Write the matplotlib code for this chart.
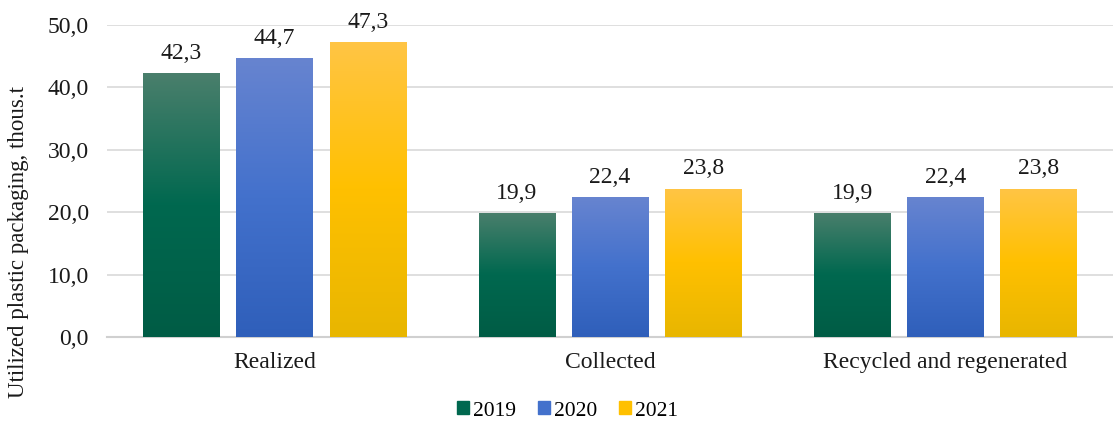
import matplotlib
matplotlib.use("Agg")
import matplotlib.pyplot as plt
import numpy as np
from matplotlib.colors import LinearSegmentedColormap
from matplotlib.patches import Rectangle

categories = ["Realized", "Collected", "Recycled and regenerated"]
years = ["2019", "2020", "2021"]
v2019 = [42.3, 19.9, 19.9]
v2020 = [44.7, 22.4, 22.4]
v2021 = [47.3, 23.8, 23.8]
series = [v2019, v2020, v2021]

# gradient stops (top, middle, bottom)
grads = [
    ["#4a7f6c", "#00684f", "#005c45"],
    ["#6784d0", "#4371cc", "#2f5fba"],
    ["#ffc545", "#ffc000", "#e8b600"],
]
base_colors = ["#00684f", "#4371cc", "#ffc000"]

plt.rcParams["font.family"] = ["Liberation Serif", "DejaVu Serif"]
FS = 17

fig = plt.figure(figsize=(11.13, 4.25), dpi=100)
ax = fig.add_axes([0.096, 0.207, 0.904, 0.734])

x = np.arange(len(categories))
w = 0.227
off = 0.278
grad_img = np.linspace(0, 1, 256).reshape(-1, 1)

for i, (vals, g) in enumerate(zip(series, grads)):
    cmap = LinearSegmentedColormap.from_list(f"g{i}", [(0, g[2]), (0.5, g[1]), (1, g[0])])
    bars = ax.bar(x + (i - 1) * off, vals, w, color=base_colors[i], label=years[i], zorder=2)
    for b, v in zip(bars, vals):
        bx, by = b.get_x(), b.get_y()
        bw, bh = b.get_width(), b.get_height()
        im = ax.imshow(grad_img, cmap=cmap, aspect="auto", origin="lower",
                       extent=[bx, bx + bw, by, by + bh], zorder=3)
        im.set_clip_path(b)
        ax.text(bx + bw / 2, v + 1.5, f"{v:.1f}".replace(".", ","),
                ha="center", va="bottom", fontsize=FS, color="#1a1a1a")

ax.set_xlim(-0.5, 2.5)
ax.set_ylim(0, 50)
ax.set_yticks(np.arange(0, 51, 10))
ax.set_yticklabels([f"{t:.1f}".replace(".", ",") for t in np.arange(0, 51, 10)])
ax.set_xticks(x)
ax.set_xticklabels(categories)
ax.tick_params(axis="both", length=0, colors="#1a1a1a", labelsize=FS)
ax.tick_params(axis="y", pad=13)
ax.tick_params(axis="x", pad=11)
ax.grid(axis="y", color="#d9d9d9", linewidth=1.2, zorder=0)
ax.set_axisbelow(True)
for s in ["top", "right", "left"]:
    ax.spines[s].set_visible(False)
ax.spines["bottom"].set_color("#d0d0d0")
ax.spines["bottom"].set_linewidth(1.5)
fig.text(0.017, 0.431, "Utilized plastic packaging, thous.t", rotation=90,
         ha="center", va="center", fontsize=16.5, color="#1a1a1a")

handles = [Rectangle((0, 0), 1, 1, color=base_colors[i]) for i in range(3)]
fig.legend(handles, years, loc="center", bbox_to_anchor=(0.51, 0.033), ncol=3,
           frameon=False, handlelength=0.55, handleheight=0.55, handletextpad=0.2,
           columnspacing=1.0, fontsize=15.5)

fig.savefig("out.png", dpi=100)
